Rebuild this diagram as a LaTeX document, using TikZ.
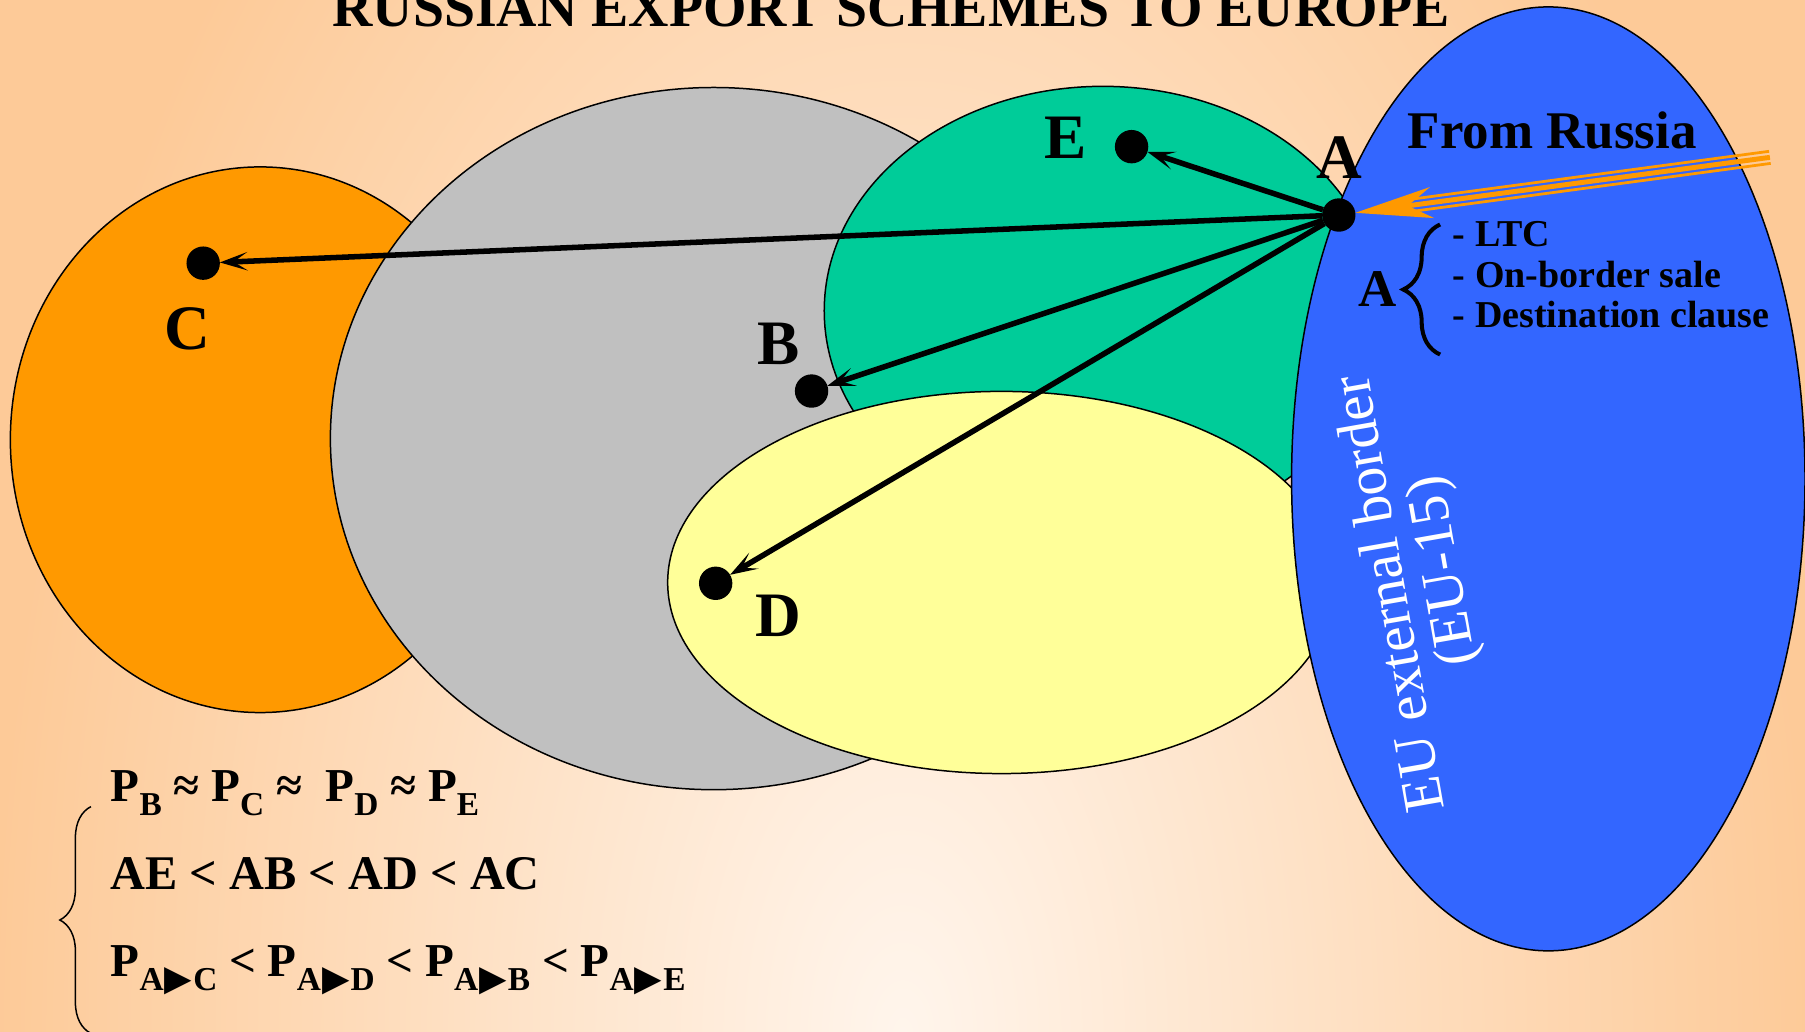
\documentclass[tikz,border=0pt]{standalone}
\usepackage{fontspec}
\setmainfont{Liberation Serif}
\newfontfamily\symf{DejaVu Sans}
\usetikzlibrary{arrows.meta,decorations.pathreplacing}
\definecolor{bgin}{RGB}{255,245,236}
\definecolor{bgout}{RGB}{253,202,152}
\definecolor{orC}{RGB}{255,153,0}
\definecolor{grB}{RGB}{192,192,192}
\definecolor{gnE}{RGB}{0,204,153}
\definecolor{ylD}{RGB}{255,255,153}
\definecolor{blA}{RGB}{51,102,255}
\pgfdeclareradialshading{bgshade}{\pgfpoint{0bp}{0bp}}{color(0bp)=(bgin); color(25bp)=(bgout); color(50bp)=(bgout)}
\newcommand\fsz[1]{\fontsize{#1}{#1}\selectfont}
\newcommand\subx[1]{\raisebox{-12pt}{\fsz{29}#1}}
\newcommand\tri{\hspace{1pt}{\symf\fsz{31}▶}\hspace{1pt}}
\begin{document}
\begin{tikzpicture}[x=1pt,y=-1pt,
  ell/.style={draw=black, line width=1.3pt},
  dot/.style={circle, fill=black, minimum size=29pt, inner sep=0pt, outer sep=0pt},
  lbl/.style={font=\fsz{55}\bfseries, anchor=base, inner sep=0pt},
  blk/.style={line width=4.8pt, -{Stealth[length=24pt,width=16pt,inset=12pt]}},
  rusthick/.style={draw=orC, line width=4.3pt},
  rusthin/.style={draw=orC, line width=2.4pt},
  brc/.style={decorate, decoration={brace, amplitude=#1}},
  eq/.style={font=\fsz{41}\bfseries, anchor=base west, inner sep=0pt},
  lst/.style={font=\fsz{33}\bfseries, anchor=base west, inner sep=0pt},
  eu/.style={font=\fontsize{50}{49}\selectfont, text=white, rotate=100, align=center, anchor=center, inner sep=0pt}]
\useasboundingbox (0,0) rectangle (1568,896);
\begin{scope}
  \clip (0,0) rectangle (1568,896);
  \shade[shading=bgshade] (-6,-500) rectangle (1574,2300);
\end{scope}
% regions
\draw[ell, fill=orC] (226,382) ellipse [x radius=217pt, y radius=237pt];
\draw[ell, fill=grB] (620,381) ellipse [x radius=333pt, y radius=305pt];
\draw[ell, fill=gnE] (958,270) ellipse [x radius=242pt, y radius=195pt];
\draw[ell, fill=ylD] (870,506) ellipse [x radius=290pt, y radius=166pt];
\draw[ell, fill=blA] (1345,416) ellipse [x radius=223pt, y radius=410pt];
% title
\node[font=\fsz{48.5}\bfseries, anchor=base, inner sep=0pt] (title) at (774,23) {RUSSIAN EXPORT SCHEMES TO EUROPE};
% points
\node[dot] (A) at (1163,186.8) {};
\node[dot] (E) at (983,127.4) {};
\node[dot] (C) at (176.5,228.6) {};
\node[dot] (B) at (705,339.7) {};
\node[dot] (D) at (621.7,506.7) {};
\node[lbl] (lA) at (1163.5,155) {A};
\node[lbl] (lE) at (926,137.5) {E};
\node[lbl] (lC) at (162.5,304) {C};
\node[lbl] (lB) at (676.5,317) {B};
\node[lbl] (lD) at (676.5,553) {D};
\draw[blk] (A) -- (E);
\draw[blk] (A) -- (C);
\draw[blk] (A) -- (B);
\draw[blk] (A) -- (D);
% from Russia arrow
\coordinate (rus) at (1537.5,136.7);
\coordinate (rusa) at (1538.2,141.95);
\coordinate (rusb) at (1536.8,131.45);
\coordinate (nota) at (1223.7,184.05);
\coordinate (notb) at (1222.3,173.55);
\draw[rusthin] (rusa) -- (nota);
\draw[rusthin] (rusb) -- (notb);
\draw[rusthick, -{Stealth[length=67pt,width=27pt,inset=21pt]}] (rus) -- (A);
\node[font=\fsz{46}\bfseries, anchor=base, inner sep=0pt] (from) at (1348.5,128.8) {From Russia};
% A list
\node[font=\fsz{46}\bfseries, anchor=base, inner sep=0pt] (lA2) at (1197,266.4) {A};
\draw[brc=32pt, line width=3.5pt] (1251,308) -- (1251,195);
\node[lst] (l1) at (1262,214.3) {- LTC};
\node[lst] (l2) at (1262,249.6) {- On-border sale};
\node[lst] (l3) at (1262,284.3) {- Destination clause};
% EU border text
\node[eu] (eu) at (1233.7,511.4) {EU external border\\\hspace*{23pt}(EU-15)};
% formulas
\draw[brc=27pt, line width=1.3pt] (79,897.7) -- (79,700.7);
\node[eq] (f1) at (96,696.4) {P\subx{B} ≈ P\subx{C} ≈\ \ P\subx{D} ≈ P\subx{E}};
\node[eq, font=\fsz{42}\bfseries] (f2) at (96,773.1) {AE < AB < AD < AC};
\node[eq] (f3) at (96,848.4) {P\subx{A\tri C} < P\subx{A\tri D} < P\subx{A\tri B} < P\subx{A\tri E}};
\end{tikzpicture}
\end{document}
